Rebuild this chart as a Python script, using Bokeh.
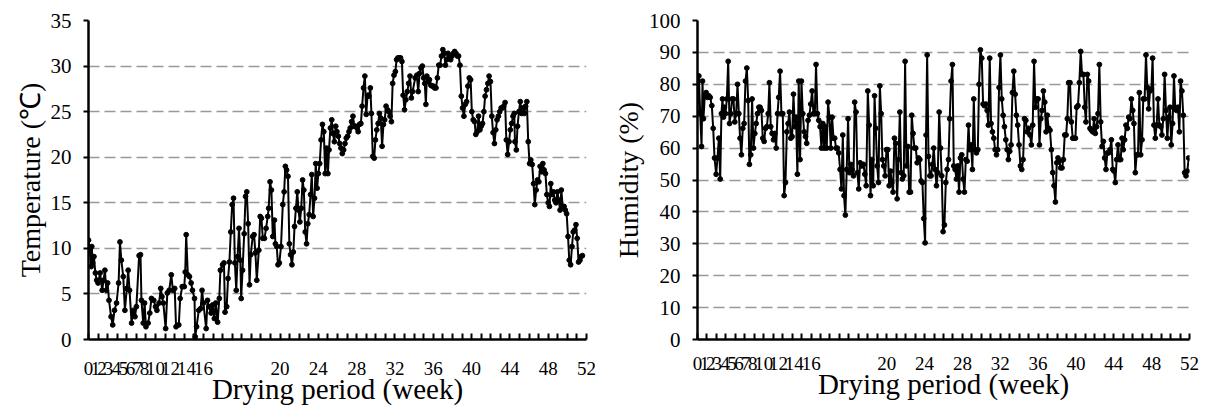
from bokeh.plotting import figure
from bokeh.layouts import row
from bokeh.models import FixedTicker, CustomJSTickFormatter, Range1d
from bokeh.embed import file_html
from bokeh.resources import INLINE

FONT = "Liberation Serif"

# ---------------- data (day of drying period, value) ----------------
temp_days = [
    0, 1, 2, 2.4, 3, 4, 5, 6, 7, 8.5,
    10, 11, 12, 13, 14, 15, 16.5, 17.7, 19, 20.5,
    22, 23, 24, 25.4, 26.6, 28, 29, 30, 31.5, 32.7,
    34, 35, 37, 38, 38.7, 40, 41, 42, 43.6, 44.8,
    46, 47.7, 49, 50, 51.6, 52.8, 53.7, 54.7, 56.4, 57.6,
    59, 60.5, 61.7, 63, 64, 66, 67, 68.5, 70, 70.7,
    71.4, 72.6, 73.8, 75, 76, 77.5, 78, 79, 80.6, 82,
    83, 84, 86, 87, 88, 89.6, 90.8, 92, 93, 94.4,
    95.6, 96.4, 98, 99, 99.8, 101, 102, 103, 104, 105,
    106, 107, 108, 109, 110, 111, 111.6, 112.6, 113.8, 114.8,
    115.7, 116.7, 117.7, 118.6, 120,
    121, 122, 123, 124.5, 125.5, 126.4, 127.4, 128.6, 129.8, 131,
    131.7, 132.7, 133.7, 134.7, 135.9, 136.6, 137.6, 138.5, 139.5, 140.7,
    142, 143, 143.9, 144.8, 145.8, 146.8, 147.7, 148.7, 149.7, 150.6,
    151.6, 152.6, 153.5, 154.5, 155.5, 156.5, 157.4, 158.4, 159.4, 160.3,
    161.3, 162.3, 163.2, 164.2, 165.2, 166.1, 167.1, 168, 169, 170,
    171, 172, 173, 174, 175, 175.8, 176.8, 177.8, 178.7, 179.7,
    180.7, 181.6, 182.6, 183.6, 184.5, 185.5, 186.5, 187.5, 188.4, 189.4,
    190.4, 191.3, 192.3, 193.3, 194.2, 195.2, 196.2, 197.1, 198.1, 199.1,
    200, 201, 202, 203, 204, 205, 206, 206.8, 207.8, 208.8,
    209.7, 210.7, 211.7, 212.6, 213.6, 214.6, 215.6, 216.5, 217.5, 218.5,
    219.4, 220.4, 221.4, 222.3, 223.3, 224.3, 225.2, 226.2, 227.2, 228.1,
    229.1, 230, 231, 232, 233, 234, 235, 236, 236.9,
    238.8, 240, 241, 242, 243, 244, 245, 245.8, 246.6, 247.3,
    248.3, 249.2, 250.2, 251.2, 252.1, 253, 254, 255, 256, 257,
    258, 259, 260, 260.9, 261.8, 262.8, 263.8, 264.7, 265.7, 266.7,
    267.6, 268.6, 269.6, 270.5, 271.5, 272.5, 273.4, 274.4, 275.4, 276.4,
    277.3, 278.3, 279.3, 280.2, 281.2, 282.2, 283.1, 284.1, 285.1, 286.1,
    287, 288, 289, 289.9, 290.9, 291.9, 292.8, 293.8, 294.8, 295.7,
    296.7, 297.7, 298.6, 299.6, 300.6, 301.6, 302.5, 303.5, 304.5, 305.4,
    306.4, 307.4, 308.3, 309.3, 310.3, 311.2, 311.7, 312.7, 313.6, 314.6,
    315.6, 316.6, 317.5, 318.5, 319.5, 320.4, 321.4, 322.4, 323.3, 324.3,
    325.3, 326.2, 327.2, 328.2, 329.2, 330.1, 331.1, 332.1, 333, 334,
    335, 336, 336.9, 337.9, 338.8, 339.8, 340.8, 341.7, 342.7, 343.7,
    344.7, 345.6, 346.6, 347.6, 348.5, 349.5, 350.5, 351.4, 352.4, 353.4,
    354.3, 355.3, 356.3, 357.2, 358.2, 359.2, 360, 361,
]
temperature = [
    10.9, 9.8, 8.0, 10.2, 8.4, 9.1, 7.3, 6.5, 6.2, 7.3,
    5.4, 6.5, 7.6, 5.4, 6.2, 4.3, 2.5, 1.6, 3.2, 4.0,
    6.2, 10.7, 8.7, 6.9, 3.2, 5.6, 7.6, 5.4, 1.8, 3.2,
    2.5, 3.6, 9.2, 9.3, 4.3, 1.8, 4.0, 1.4, 1.8, 2.9,
    4.5, 4.3, 3.6, 3.2, 4.0, 5.6, 4.7, 4.0, 1.2, 5.1,
    5.4, 7.1, 5.4, 5.6, 1.4, 1.6, 4.5, 5.8, 5.8, 7.4,
    11.5, 7.1, 6.9, 6.2, 5.4, 4.5, 0.3, 1.4, 3.2, 3.4,
    5.4, 4.0, 1.2, 4.3, 3.6, 2.9, 3.8, 2.3, 4.0, 1.9,
    4.5, 7.6, 8.2, 8.4, 3.0, 3.6, 6.7, 8.5, 11.8, 14.8,
    15.5, 8.4, 5.4, 9.1, 12.2, 8.7, 4.5, 7.6, 11.6, 15.7,
    16.2, 12.7, 6.0, 9.3, 11.3,
    11.5, 9.5, 6.5, 9.8, 13.5, 13.3, 11.1, 11.1, 12.2, 13.5,
    14.4, 17.3, 16.4, 11.3, 13.1, 10.5, 10.2, 8.2, 8.4, 10.2,
    14.8, 16.2, 19.0, 18.6, 17.9, 10.5, 9.3, 8.2, 9.6, 12.4,
    14.4, 16.2, 14.2, 12.9, 14.4, 17.5, 16.4, 11.8, 10.5, 12.7,
    13.7, 15.9, 18.1, 13.5, 15.5, 19.3, 16.6, 18.2, 19.3, 21.9,
    23.6, 22.8, 18.2, 21.0, 18.2, 20.8, 23.2, 24.1, 22.6, 21.7,
    23.4, 22.8, 22.3, 21.5, 21.0, 20.4, 20.8, 21.5, 22.1, 22.3,
    22.8, 23.2, 23.9, 24.5, 23.4, 23.4, 23.2, 22.8, 23.6, 23.7,
    25.6, 27.6, 28.9, 24.7, 26.8, 26.7, 27.6, 24.8, 20.1, 19.9,
    21.9, 23.0, 23.7, 24.8, 24.3, 21.2, 23.6, 24.1, 25.6, 25.2,
    25.0, 24.5, 23.9, 28.1, 29.0, 29.4, 30.7, 30.9, 30.9, 30.9,
    30.5, 26.8, 25.2, 26.3, 27.2, 28.1, 28.9, 26.5, 27.2,
    28.7, 29.0, 27.2, 29.2, 29.8, 30.0, 28.7, 28.1, 25.8, 28.9,
    28.3, 28.5, 27.9, 27.8, 27.8, 27.6, 27.6, 28.7, 30.1, 30.1,
    31.1, 31.8, 31.4, 30.1, 30.7, 31.4, 30.9, 30.7, 31.1, 31.4,
    31.6, 31.4, 31.1, 31.1, 30.1, 26.7, 25.4, 24.5, 25.8, 26.1,
    27.8, 28.7, 28.5, 25.0, 24.1, 23.9, 22.5, 22.8, 24.5, 23.0,
    23.4, 23.7, 25.0, 26.7, 27.4, 28.1, 28.9, 28.3, 24.5, 22.7,
    21.5, 23.0, 24.1, 24.5, 25.0, 25.4, 25.4, 25.6, 26.0, 21.9,
    20.3, 21.7, 23.0, 23.7, 24.5, 24.8, 21.7, 20.8, 23.4, 25.0,
    26.1, 24.8, 25.4, 24.8, 25.6, 26.1, 21.7, 19.3, 19.7, 19.2,
    17.1, 14.8, 16.4, 17.5, 17.3, 19.0, 18.4, 19.3, 18.6, 18.2,
    15.9, 15.0, 14.6, 17.1, 15.9, 16.2, 15.3, 15.0, 16.2, 15.3,
    14.2, 16.4, 14.6, 14.6, 14.2, 13.8, 11.3, 8.7, 8.2, 10.2,
    11.8, 12.0, 12.6, 11.1, 8.5, 8.7, 9.1, 9.2,
]

hum_days = [
    0, 1, 2, 3, 3.7, 4.4, 5.4, 6.4, 7.4, 8.4,
    9.4, 10.6, 11.6, 12.6, 13.8, 14.8, 15.8, 16.8, 17.7, 18.5,
    19.2, 19.9, 20.7, 21.7, 22.7, 23.7, 24.6, 25.6, 26.6, 27.6,
    28.6, 29.6, 30.6, 31.5, 32.5, 33.5, 34.5, 35.5, 36.5, 37.5,
    38.4, 39.4, 40.4, 41.4, 42.4, 43.4, 44.4, 45.4, 46.3, 47.3,
    48.3, 49.3, 50.3, 51.3, 52.3, 53.2, 54.2, 55.2, 56.2, 57.2,
    58.2, 59.2, 60.1, 61.1, 62.1, 63.1, 64.1, 65.1, 66.1, 67,
    68, 69, 70, 71, 72, 72.9, 73.9, 74.9, 75.9, 76.9,
    77.9, 78.9, 79.9, 80.8, 81.8, 82.8, 83.8, 84.8, 85.8, 86.8,
    87.7, 88.7, 89.7, 90.7, 91.7, 92.7, 93.7, 94.6, 95.6, 96.6,
    97.6, 98.6, 99.6, 100.6, 101.5, 102.5, 103.5, 104.5, 105.5, 106.5,
    107.5, 108.4, 109.4, 110.4, 111.4, 112.4, 113.4, 114.4, 115.4, 116.3,
    117.3, 118.3, 119.3, 120.3, 121.5,
    122.8, 123.8, 124.8, 126, 127, 128, 129, 130, 131, 131.9,
    132.9, 133.9, 134.9, 135.9, 136.8, 137.8, 138.8, 139.8, 140.8, 141.8,
    142.8, 143.7, 144.7, 145.7, 146.7, 147.7, 148.7, 149.7, 150.7, 151.6,
    152.6, 153.6, 154.6, 155.6, 156.6, 157.6, 158.5, 159.5, 160.5, 161.5,
    162.5, 163.5, 164.5, 165.4, 166.4, 167.4, 168.4, 169.1, 169.9, 170.9,
    171.9, 172.8, 173.8, 174.8, 175.8, 176.8, 177.8, 178.8, 179.8, 180.7,
    181.7, 182.7, 183.7, 184.7, 185.7, 186.6, 187.6, 188.6, 189.6, 190.6,
    191.6, 192.6, 193.5, 194.5, 195.5, 196.5, 197.5, 198.5, 199.5, 200.5,
    201.4, 202.4, 203.4, 204.4, 205.4, 206.4, 207.4, 208.3, 209.3, 210.3,
    211.3, 212.3, 213.3, 214.3, 215.2, 216.2, 217.2, 218.2, 219.2, 220.2,
    221.2, 222.1, 223.1, 224.1, 225.1, 226.1, 227.1, 228.1, 229.1, 230,
    231, 232, 233, 234, 235, 235.9, 236.9, 237.9, 238.9, 239.9,
    240.9, 241.9, 242.9, 243.8,
    245, 246, 247, 248, 249, 250, 251, 252, 253, 254,
    254.9, 255.9, 256.9, 257.9, 258.8, 259.8, 260.8, 261.8, 262.8, 263.8,
    264.8, 265.8, 266.7, 267.7, 268.7, 269.7, 270.7, 271.7, 272.7, 273.6,
    274.6, 275.6, 276.6, 277.6, 278.6, 279.6, 280.5, 281.5, 282.5, 283.5,
    284.5, 285.5, 286.5, 287.4, 288.4, 289.4, 290.4, 291.4, 292.4, 293.4,
    294.3, 295.3, 296.3, 297.3, 298.3, 299.3, 300.3, 301.2, 302.2, 303.2,
    304.2, 305.2, 306.2, 307.2, 308.1, 309.1, 310.1, 311.1, 312.1, 313.1,
    314.1, 315, 316, 317, 318, 319, 320, 321, 322, 322.9,
    323.9, 324.9, 325.9, 326.9, 327.9, 328.9, 329.8, 330.8, 331.8, 332.8,
    333.8, 334.8, 335.8, 336.7, 337.7, 338.7, 339.7, 340.7, 341.7, 342.7,
    343.6, 344.6, 345.6, 346.6, 347.6, 348.6, 349.6, 350.5, 351.5, 352.5,
    353.5, 354.5, 355.5, 356.5, 357.4, 358.4, 359.4, 360.4, 361.4, 362.4,
    363.4,
]
humidity = [
    71.3, 82.6, 70.8, 60.5, 81, 69.2, 76.4, 77.4, 75.9, 76.4,
    75.9, 73.3, 66.2, 56.9, 51.8, 56.9, 63.1, 50.3, 70.8, 75.4,
    69.7, 72.8, 70.8, 75.4, 87.2, 67.7, 70.8, 75.4, 75.4, 68.2,
    70.8, 80, 70.8, 63.1, 57.9, 66.2, 67.7, 81, 85.1, 74.9,
    54.9, 57.9, 75.4, 60, 64.6, 67.7, 70.8, 72.8, 72.8, 71.8,
    63.1, 62.1, 66.2, 66.7, 70.8, 80.5, 66.7, 64.6, 62.6, 64.6,
    60, 70.8, 75.9, 84.1, 70.8, 70.8, 45.1, 49.2, 65.1, 67.7,
    71.3, 63.1, 63.6, 76.9, 66.7, 69.7, 51.8, 81, 56.4, 81,
    70.8, 65.1, 63.6, 61.5, 68.7, 70.3, 73.8, 77.9, 70.8, 70.8,
    86.2, 70.8, 68.7, 66.7, 60, 67.7, 60, 66.7, 60, 74.4,
    69.7, 60, 69.7, 63.1, 63.1, 60, 60, 58.5, 53.3, 47.2,
    64.1, 45.1, 39, 53.3, 69.2, 52.3, 54.9, 53.3, 51.3, 74.4,
    71.3, 52.3, 47.2, 55.4, 54.4,
    54.9, 51.8, 48.2, 77.9, 67.2, 45.1, 56.4, 48.2, 76.4, 66.2,
    54.4, 49.2, 79.5, 70.8, 56.4, 54.4, 51.3, 59.5, 59.5, 48.2,
    52.8, 49.2, 46.2, 63.1, 61.5, 44.1, 56.4, 71.3, 52.3, 50.3,
    51.3, 87.2, 54.4, 60.5, 46.2, 46.2, 70.3, 64.6, 60, 60,
    55.4, 56.9, 56.4, 49.7, 49.2, 37.9, 30.3, 64.1, 89.2, 57.4,
    51.3, 51.3, 54.9, 60, 53.3, 48.2, 52.3, 71.3, 60, 51.3,
    33.8, 35.9, 49.2, 53.3, 56.4, 69.2, 81, 86.2, 54.4, 53.3,
    50.3, 54.4, 46.2, 56.9, 57.9, 50.3, 46.2, 56.4, 55.9, 67.2,
    59.5, 61, 53.3, 75.4, 59.5, 58.5, 59.5, 80, 90.8, 88.2,
    73.8, 73.3, 73.8, 71.8, 67.2, 88.2, 67.7, 65.1, 63.1, 59.5,
    57.9, 59.5, 79, 89.2, 75.4, 70.3, 66.7, 62.6, 59.5, 56.4,
    59, 61, 77.4, 84.1, 76.9, 70.3, 67.2, 61, 54.4, 53.3,
    56.4, 69.2, 68.7, 65.1,
    66.2, 64.1, 61, 67.2, 87.2, 72.8, 75.4, 75.4, 61, 69.2,
    71.8, 77.9, 74.4, 65.1, 70.3, 66.2, 65.6, 59.5, 52.3, 48.2,
    43.1, 55.4, 56.9, 55.9, 53.8, 53.8, 56.4, 64.1, 64.1, 69.2,
    80.5, 80.5, 68.2, 63.1, 63.1, 63.1, 72.8, 73.3, 80.5, 90.3,
    83.1, 83.1, 72.8, 68.2, 83.1, 81, 66.2, 65.6, 65.1, 69.2,
    64.6, 66.7, 70.8, 86.2, 68.2, 60.5, 62.1, 56.9, 53.3, 58.5,
    58.5, 59.5, 62.6, 53.3, 52.8, 49.2, 56.4, 61, 56.4, 56.4,
    63.1, 59.5, 62.6, 67.2, 66.2, 69.7, 69.2, 75.4, 71.8, 67.7,
    52.3, 57.9, 57.9, 77.4, 57.9, 62.6, 75.4, 75.4, 89.2, 79,
    72.3, 77.9, 78.5, 88.2, 67.2, 63.1, 67.2, 75.4, 67.2, 66.7,
    64.1, 69.2, 83.1, 71.8, 63.1, 69.7, 72.8, 61, 67.7, 82.6,
    72.3, 71.8, 72.8, 65.1, 81, 77.9, 70.3, 52.3, 51.3, 52.8,
    56.9,
]

week_tick_labels = ["0", "1", "2", "3", "4", "5", "6", "7", "8", "10", "12", "14", "16",
                    "20", "24", "28", "32", "36", "40", "44", "48", "52"]

# positions (in weeks) where the crowded labels are printed
label_pos = [0, 0.73, 1.41, 2.09, 2.92, 3.65, 4.38, 5.11, 5.85, 6.99, 8.56, 10.23, 12.01,
             20, 24, 28, 32, 36, 40, 44, 48, 52]


def panel(days, vals, ymax, ystep, ytitle, width, borders, x_standoff):
    left, right, top, bottom = borders
    p = figure(width=width, height=411, x_range=Range1d(0, 52), y_range=Range1d(0, ymax),
               output_backend="svg", toolbar_location=None,
               min_border_left=left, min_border_right=right,
               min_border_top=top, min_border_bottom=bottom)
    p.outline_line_color = None
    p.background_fill_color = "white"
    p.border_fill_color = "white"

    p.xgrid.visible = False
    p.ygrid.ticker = FixedTicker(ticks=list(range(ystep, ymax + 1, ystep)))
    p.ygrid.grid_line_color = "#999999"
    p.ygrid.grid_line_width = 1.6
    p.ygrid.grid_line_dash = "11 5"

    yax = p.yaxis[0]
    yax.ticker = FixedTicker(ticks=list(range(0, ymax + 1, ystep)))
    yax.axis_line_color = "black"
    yax.axis_line_width = 2.5
    yax.major_tick_line_color = "black"
    yax.major_tick_line_width = 2
    yax.major_tick_out = 5
    yax.major_tick_in = 0
    yax.minor_tick_line_color = None
    yax.major_label_text_font = FONT
    yax.major_label_text_font_size = "21px"
    yax.major_label_text_color = "black"
    yax.major_label_standoff = 12
    yax.axis_label = ytitle
    yax.axis_label_text_font = FONT
    yax.axis_label_text_font_size = "28px"
    yax.axis_label_text_font_style = "normal"
    yax.axis_label_text_color = "black"
    yax.axis_label_standoff = 2

    xax = p.xaxis[0]
    xax.ticker = FixedTicker(ticks=label_pos, minor_ticks=list(range(0, 53)))
    xax.formatter = CustomJSTickFormatter(args=dict(labels=week_tick_labels, pos=label_pos), code="""
        let best = 0; let bd = 1e9;
        for (let i = 0; i < pos.length; i++) {
            const d = Math.abs(pos[i] - tick);
            if (d < bd) { bd = d; best = i; }
        }
        return labels[best];
    """)
    xax.axis_line_color = "black"
    xax.axis_line_width = 2.5
    xax.major_tick_line_color = None
    xax.major_tick_in = 0
    xax.major_tick_out = 0
    xax.minor_tick_line_color = "black"
    xax.minor_tick_line_width = 2
    xax.minor_tick_in = 6
    xax.minor_tick_out = 0
    xax.major_label_text_font = FONT
    xax.major_label_text_font_size = "19px"
    xax.major_label_text_color = "black"
    xax.major_label_standoff = x_standoff
    xax.axis_label = "Drying period (week)"
    xax.axis_label_text_font = FONT
    xax.axis_label_text_font_size = "29px"
    xax.axis_label_text_font_style = "normal"
    xax.axis_label_text_color = "black"
    xax.axis_label_standoff = -5

    weeks = [d / 7.0 for d in days]
    p.line(weeks, vals, line_color="black", line_width=2)
    p.scatter(weeks, vals, size=4.8, color="black")
    return p


p1 = panel(temp_days, temperature, 35, 5, "Temperature (\u2103)", 605, (88, 19, 20, 72), 22)
p2 = panel(hum_days, humidity, 100, 10, "Humidity (%)", 606, (92, 22, 20, 67), 17)

layout = row(p1, p2)
open("out.html", "w").write(file_html(layout, INLINE))
